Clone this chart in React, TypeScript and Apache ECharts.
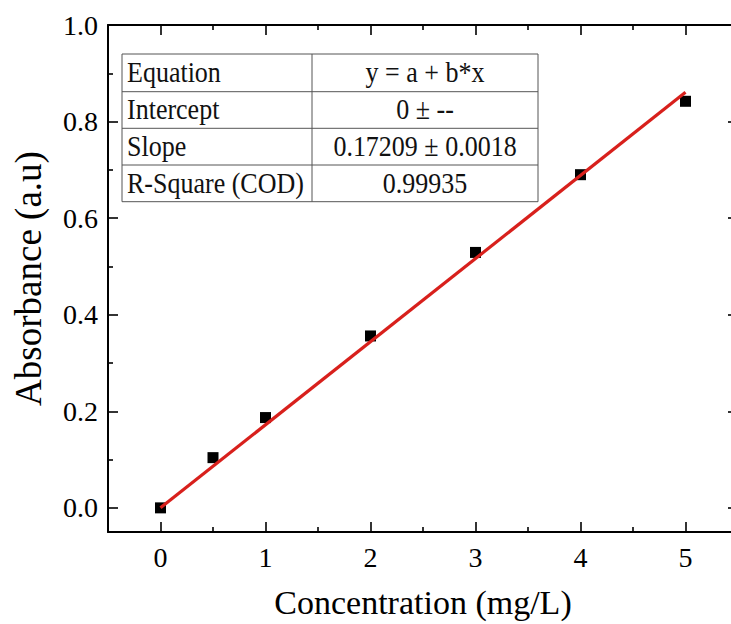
import React, { useEffect, useRef } from "react";
import * as echarts from "echarts";

const concentration = [0, 0.5, 1, 2, 3, 4, 5];
const absorbance = [0.0, 0.104, 0.187, 0.356, 0.529, 0.69, 0.842];
const fitX = [0, 5];
const fitY = [0, 0.8605];

const xMajorTicks = [0, 1, 2, 3, 4, 5];
const xMinorTicks = [0.5, 1.5, 2.5, 3.5, 4.5];
const yMajorTicks = [0, 0.2, 0.4, 0.6, 0.8, 1.0];
const yMinorTicks = [0.1, 0.3, 0.5, 0.7, 0.9];

const tableLabels = ["Equation", "Intercept", "Slope", "R-Square (COD)"];
const tableValues = ["y = a + b*x", "0 \u00b1 --", "0.17209 \u00b1 0.0018", "0.99935"];

const FONT = "'Liberation Serif', 'Times New Roman', serif";

export default function App() {
  const ref = useRef<HTMLDivElement>(null);

  useEffect(() => {
    if (!ref.current) return;
    const chart = echarts.init(ref.current, null, { renderer: "svg" });

    const tickStyle = { color: "#000", width: 1.6 };
    const axisLineStyle = { color: "#000", width: 2 };

    const mkX = (pos: string, ticks: number[], len: number, opts: any = {}) => ({
      type: "value",
      position: pos,
      min: -0.5,
      max: 5.5,
      axisLine: { show: opts.line ?? false, lineStyle: axisLineStyle, onZero: false },
      axisTick: { show: true, inside: true, length: len, customValues: ticks, lineStyle: tickStyle },
      axisLabel: opts.label
        ? { show: true, customValues: ticks, fontFamily: FONT, fontSize: 28, color: "#000", margin: 11 }
        : { show: false },
      splitLine: { show: false },
      ...(opts.extra || {}),
    });
    const mkY = (pos: string, ticks: number[], len: number, opts: any = {}) => ({
      type: "value",
      position: pos,
      min: -0.05,
      max: 1.0,
      axisLine: { show: opts.line ?? false, lineStyle: axisLineStyle, onZero: false },
      axisTick: { show: true, inside: true, length: len, customValues: ticks, lineStyle: tickStyle },
      axisLabel: opts.label
        ? {
            show: true,
            customValues: ticks,
            fontFamily: FONT,
            fontSize: 28,
            color: "#000",
            margin: 10,
            formatter: (v: number) => v.toFixed(1),
          }
        : { show: false },
      splitLine: { show: false },
      ...(opts.extra || {}),
    });

    const rowTops = [54, 91.7, 128.3, 165, 201.7];
    const tLeft = 122;
    const tDiv = 312;
    const tRight = 538;
    const graphics: any[] = [];
    graphics.push({
      type: "rect",
      shape: { x: tLeft, y: rowTops[0], width: tRight - tLeft, height: rowTops[4] - rowTops[0] },
      style: { fill: "#fff", stroke: "#555", lineWidth: 1 },
      z: 100,
    });
    for (let i = 1; i < 4; i++) {
      graphics.push({
        type: "line",
        shape: { x1: tLeft, y1: rowTops[i], x2: tRight, y2: rowTops[i] },
        style: { stroke: "#555", lineWidth: 1 },
        z: 101,
      });
    }
    graphics.push({
      type: "line",
      shape: { x1: tDiv, y1: rowTops[0], x2: tDiv, y2: rowTops[4] },
      style: { stroke: "#555", lineWidth: 1 },
      z: 101,
    });
    tableLabels.forEach((t, i) => {
      const cy = (rowTops[i] + rowTops[i + 1]) / 2;
      graphics.push({
        type: "text",
        x: 127,
        y: cy,
        scaleY: 1.1,
        style: { text: t, font: `26px ${FONT}`, fill: "#111", textAlign: "left", textVerticalAlign: "middle" },
        z: 102,
      });
      graphics.push({
        type: "text",
        x: (tDiv + tRight) / 2,
        y: cy,
        scaleY: 1.1,
        style: { text: tableValues[i], font: `26px ${FONT}`, fill: "#111", textAlign: "center", textVerticalAlign: "middle" },
        z: 102,
      });
    });

    const option: any = {
      animation: false,
      backgroundColor: "#fff",
      grid: { left: 108, top: 25, right: 4, bottom: 91, containLabel: false },
      xAxis: [
        mkX("bottom", xMajorTicks, 10, {
          line: true,
          label: true,
          extra: {
            name: "Concentration (mg/L)",
            nameLocation: "middle",
            nameGap: 53,
            nameTextStyle: { fontFamily: FONT, fontSize: 34, color: "#000" },
          },
        }),
        mkX("bottom", xMinorTicks, 5),
        mkX("top", xMajorTicks, 10, { line: true }),
        mkX("top", xMinorTicks, 5),
      ],
      yAxis: [
        mkY("left", yMajorTicks, 10, {
          line: true,
          label: true,
          extra: {
            name: "Absorbance (a.u)",
            nameLocation: "middle",
            nameGap: 61,
            nameTextStyle: { fontFamily: FONT, fontSize: 37, color: "#000" },
          },
        }),
        mkY("left", yMinorTicks, 5),
        mkY("right", yMajorTicks, 10, { line: true }),
        mkY("right", yMinorTicks, 5),
      ],
      series: [
        {
          type: "scatter",
          xAxisIndex: 0,
          yAxisIndex: 0,
          symbol: "rect",
          symbolSize: 11,
          itemStyle: { color: "#000", opacity: 1 },
          data: concentration.map((x, i) => [x, absorbance[i]]),
          z: 3,
        },
        {
          type: "line",
          xAxisIndex: 0,
          yAxisIndex: 0,
          showSymbol: false,
          symbol: "none",
          lineStyle: { color: "#d8201c", width: 3.2 },
          data: fitX.map((x, i) => [x, fitY[i]]),
          z: 4,
        },
      ],
      graphic: graphics,
    };

    chart.setOption(option);
    return () => chart.dispose();
  }, []);

  return (
    <div
      style={{ position: "fixed", left: 0, top: 0, width: 731, height: 624, overflow: "hidden", background: "#fff" }}
    >
      <div ref={ref} style={{ width: 742, height: 624 }} />
    </div>
  );
}
